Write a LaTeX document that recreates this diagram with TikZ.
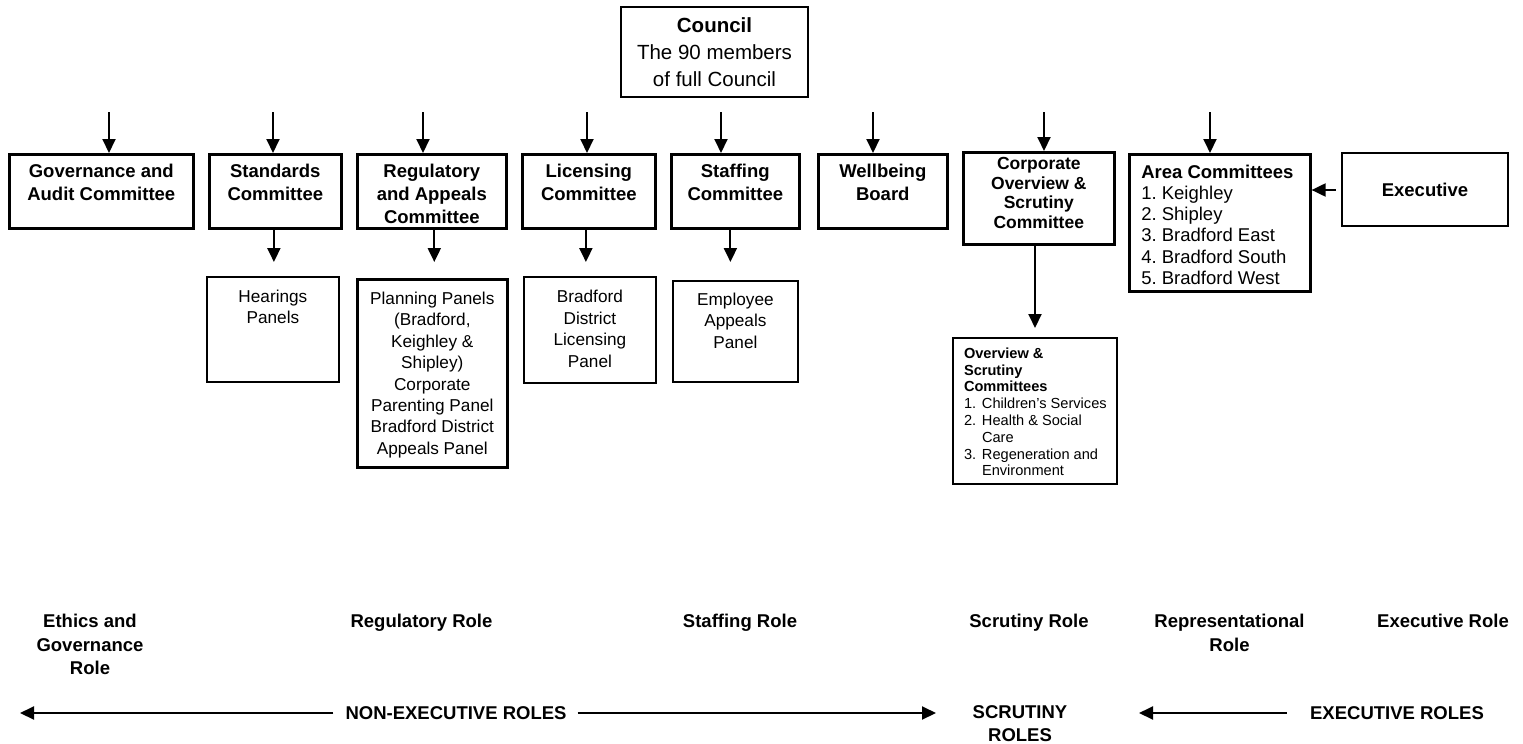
\documentclass[tikz,border=0pt]{standalone}
\usepackage{fontspec}
\setmainfont{Liberation Sans}
\usetikzlibrary{arrows.meta}
\frenchspacing
\newcommand{\mkbox}[4]{\parbox[c][#2][t]{#1}{\vspace*{#3}#4}}
\tikzset{
  cbox/.style={draw, line width=2.6pt, inner sep=0pt, anchor=north west},
  pbox/.style={draw, line width=1.8pt, inner sep=0pt, anchor=north west},
  arr/.style={line width=2pt, -{Triangle[length=14pt,width=13pt]}},
  lbl/.style={inner sep=0pt, align=center, font=\fontsize{18.5}{23.5}\selectfont\bfseries},
}
\begin{document}
\begin{tikzpicture}[x=1pt,y=-1pt]
\useasboundingbox (0,0) rectangle (1523,744);

% Council
\node[draw, line width=1.8pt, minimum width=187pt, minimum height=90pt, align=center,
      font=\fontsize{20.5}{27}\selectfont, inner sep=0pt] (council) at (714.5,52)
      {\textbf{Council}\\The 90 members\\of full Council};

% Committee row
\node[cbox] (gov) at (8,153) {\mkbox{184pt}{74pt}{10pt}{{\centering\fontsize{18.5}{23}\selectfont\bfseries Governance and\\Audit Committee\par}}};
\node[cbox] (std) at (208,153) {\mkbox{132pt}{74pt}{10pt}{{\centering\fontsize{18.5}{23}\selectfont\bfseries Standards\\Committee\par}}};
\node[cbox] (reg) at (356,153) {\mkbox{149pt}{74pt}{10pt}{{\centering\fontsize{18.5}{23}\selectfont\bfseries Regulatory\\and Appeals\\Committee\par}}};
\node[cbox] (lic) at (521,153) {\mkbox{133pt}{74pt}{10pt}{{\centering\fontsize{18.5}{23}\selectfont\bfseries Licensing\\Committee\par}}};
\node[cbox] (stf) at (670,153) {\mkbox{128pt}{74pt}{10pt}{{\centering\fontsize{18.5}{23}\selectfont\bfseries Staffing\\Committee\par}}};
\node[cbox] (wel) at (817,153) {\mkbox{129pt}{74pt}{10pt}{{\centering\fontsize{18.5}{23}\selectfont\bfseries Wellbeing\\Board\par}}};
\node[cbox] (cor) at (962,151) {\mkbox{151pt}{92pt}{4.8pt}{{\centering\fontsize{17.5}{19.8}\selectfont\bfseries Corporate\\Overview \&\\Scrutiny\\Committee\par}}};
\node[cbox] (area) at (1128,153) {\mkbox{181pt}{137pt}{10.5pt}{{\raggedright\leftskip=12pt\fontsize{18.5}{21.2}\selectfont\textbf{Area Committees}\\1. Keighley\\2. Shipley\\3. Bradford East\\4. Bradford South\\5. Bradford West\par}}};
\node[draw, line width=2.6pt, inner sep=0pt, minimum width=166pt, minimum height=73pt,
      font=\fontsize{18.5}{23}\selectfont\bfseries] (exe) at (1425,189.5) {Executive};

% Sub panels
\node[pbox] (hear) at (206,276) {\mkbox{132pt}{105pt}{12.8pt}{{\centering\fontsize{17.2}{21.4}\selectfont Hearings\\Panels\par}}};
\node[cbox] (plan) at (356,278) {\mkbox{150pt}{188pt}{12.8pt}{{\centering\fontsize{17.2}{21.4}\selectfont Planning Panels\\(Bradford,\\Keighley \&\\Shipley)\\Corporate\\Parenting Panel\\Bradford District\\Appeals Panel\par}}};
\node[pbox] (blp) at (523,276) {\mkbox{132pt}{106pt}{13.5pt}{{\centering\fontsize{17.2}{21.4}\selectfont Bradford\\District\\Licensing\\Panel\par}}};
\node[pbox] (emp) at (672,280) {\mkbox{125pt}{101pt}{12pt}{{\centering\fontsize{17.2}{21.4}\selectfont Employee\\Appeals\\Panel\par}}};
\node[pbox, line width=2pt] (ovs) at (952,337) {\mkbox{164pt}{146pt}{9.7pt}{{\raggedright\leftskip=11pt\fontsize{14.6}{16.8}\selectfont
  \textbf{Overview \&}\\ \textbf{Scrutiny}\\ \textbf{Committees}\\
  \makebox[18pt][l]{1.}Children’s Services\\
  \makebox[18pt][l]{2.}Health \& Social\\
  \hspace*{18pt}Care\\
  \makebox[18pt][l]{3.}Regeneration and\\
  \hspace*{18pt}Environment\par}}};

% Top arrows (free starts)
\coordinate (t1) at (109,112);
\coordinate (t2) at (273,112);
\coordinate (t3) at (423,112);
\coordinate (t4) at (587,112);
\coordinate (t5) at (721,112);
\coordinate (t6) at (873,112);
\coordinate (t7) at (1044,112);
\coordinate (t8) at (1210,112);
\draw[arr] (t1) -- (t1 |- gov.north);
\draw[arr] (t2) -- (t2 |- std.north);
\draw[arr] (t3) -- (t3 |- reg.north);
\draw[arr] (t4) -- (t4 |- lic.north);
\draw[arr] (t5) -- (t5 |- stf.north);
\draw[arr] (t6) -- (t6 |- wel.north);
\draw[arr] (t7) -- (t7 |- cor.north);
\draw[arr] (t8) -- (t8 |- area.north);

% Executive -> Area
\coordinate (exin) at ([yshift=-0.5pt]exe.west);
\draw[arr, shorten <=5pt] (exin) -- (exin -| area.east);

% Sub arrows
\coordinate (hin) at ([xshift=1pt]hear.north);
\coordinate (pin) at ([xshift=2pt]plan.north);
\coordinate (bin) at ([xshift=-4pt]blp.north);
\coordinate (ein) at ([xshift=-5pt]emp.north);
\draw[arr, shorten >=14pt] (hin |- std.south) -- (hin);
\draw[arr, shorten >=16pt] (pin |- reg.south) -- (pin);
\draw[arr, shorten >=14pt] (bin |- lic.south) -- (bin);
\draw[arr, shorten >=18pt] (ein |- stf.south) -- (ein);
\draw[arr, shorten >=9pt] (cor.south -| ovs.north) -- (ovs.north);

% Role labels
\node[lbl, anchor=north] (ethics) at (90,614) {Ethics and\\Governance\\Role};
\node[lbl, anchor=north] (regrole) at (421.5,614) {Regulatory Role};
\node[lbl, anchor=north] (stfrole) at (740,614) {Staffing Role};
\node[lbl, anchor=north] (scrrole) at (1029,614) {Scrutiny Role};
\node[lbl, anchor=north] (reprole) at (1229.5,614) {Representational\\Role};
\node[lbl, anchor=north] (exerole) at (1443,614) {Executive Role};

% Bottom arrows
\node[lbl] (nonexe) at (456,713) {NON-EXECUTIVE ROLES};
\node[lbl, anchor=north, font=\fontsize{18.5}{23}\selectfont\bfseries] (scr) at (1020,705.5) {SCRUTINY\\ROLES};
\node[lbl] (exr) at (1397,713) {EXECUTIVE ROLES};
\coordinate (neL) at (20,713);
\coordinate (neR) at (936,713);
\coordinate (exL) at (1139,713);
\draw[arr, shorten <=12pt] (nonexe.west) -- (neL);
\draw[arr, shorten <=11pt] (nonexe.east) -- (neR);
\draw[arr, shorten <=23pt] (exr.west) -- (exL);
\end{tikzpicture}
\end{document}
